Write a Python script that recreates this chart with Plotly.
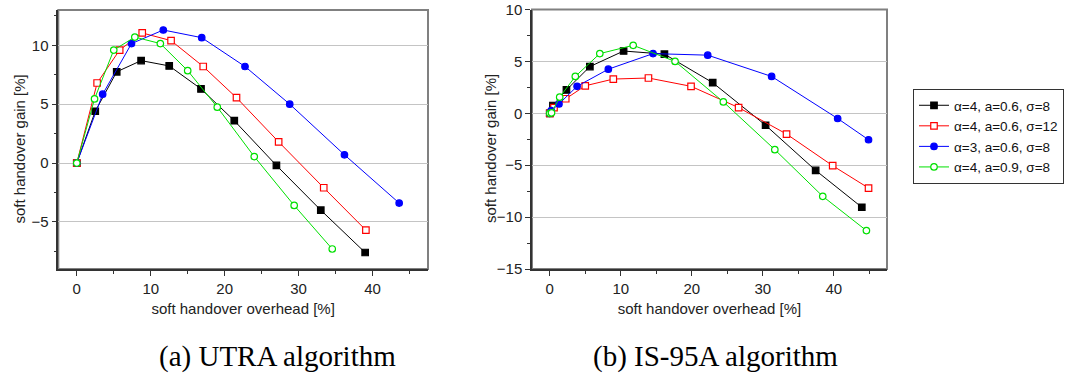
import plotly.graph_objects as go

W, H = 1074, 378

# ---------------- data ----------------
series_names = ["α=4, a=0.6, σ=8", "α=4, a=0.6, σ=12", "α=3, a=0.6, σ=8", "α=4, a=0.9, σ=8"]

# (a) UTRA algorithm
utra_black_x = [0, 2.5, 5.4, 8.7, 12.5, 16.8, 21.3, 27.0, 33.0, 39.0]
utra_black_y = [0, 4.4, 7.75, 8.7, 8.25, 6.3, 3.6, -0.2, -4.0, -7.6]
utra_red_x = [0, 2.75, 5.8, 8.85, 12.75, 17.1, 21.6, 27.3, 33.4, 39.1]
utra_red_y = [0, 6.8, 9.6, 11.05, 10.4, 8.2, 5.55, 1.8, -2.1, -5.7]
utra_blue_x = [0, 3.5, 7.4, 11.7, 16.9, 22.75, 28.8, 36.2, 43.6]
utra_blue_y = [0, 5.85, 10.15, 11.3, 10.65, 8.2, 5.0, 0.7, -3.4]
utra_green_x = [0, 2.4, 5.0, 7.85, 11.3, 15.0, 19.0, 24.0, 29.4, 34.55]
utra_green_y = [0, 5.45, 9.6, 10.7, 10.15, 7.85, 4.75, 0.55, -3.6, -7.3]

# (b) IS-95A algorithm
is95_black_x = [0, 0.45, 2.35, 5.65, 10.4, 16.15, 22.95, 30.4, 37.45, 43.95]
is95_black_y = [0, 0.75, 2.25, 4.5, 6.0, 5.7, 2.95, -1.15, -5.5, -9.05]
is95_red_x = [0, 0.6, 2.25, 5.0, 8.95, 13.9, 19.9, 26.6, 33.35, 39.85, 44.9]
is95_red_y = [0, 0.55, 1.4, 2.65, 3.3, 3.4, 2.6, 0.55, -2.0, -5.05, -7.2]
is95_blue_x = [0, 0.2, 1.3, 3.85, 8.25, 14.55, 22.25, 31.25, 40.55, 44.9]
is95_blue_y = [0, 0.25, 0.9, 2.6, 4.25, 5.75, 5.6, 3.55, -0.5, -2.55]
is95_green_x = [0, 0.25, 1.4, 3.6, 7.05, 11.75, 17.65, 24.45, 31.7, 38.45, 44.6]
is95_green_y = [0, 0.05, 1.55, 3.55, 5.75, 6.55, 5.0, 1.1, -3.5, -8.0, -11.3]

x_title = "soft handover overhead [%]"
y_title = "soft handover gain [%]"
captions = ["(a) UTRA algorithm", "(b) IS-95A algorithm"]

# ---------------- styles ----------------
styles = [
    dict(color="#000000", symbol="square", fill="#000000"),
    dict(color="#ff0000", symbol="square", fill="#ffffff"),
    dict(color="#0000ff", symbol="circle", fill="#0000ff"),
    dict(color="#00e000", symbol="circle", fill="#ffffff"),
]

fig = go.Figure()

panels = [
    ("x", "y", [(utra_black_x, utra_black_y), (utra_red_x, utra_red_y),
                (utra_blue_x, utra_blue_y), (utra_green_x, utra_green_y)], True),
    ("x2", "y2", [(is95_black_x, is95_black_y), (is95_red_x, is95_red_y),
                  (is95_blue_x, is95_blue_y), (is95_green_x, is95_green_y)], False),
]

for xa, ya, data, show in panels:
    for i, (xs, ys) in enumerate(data):
        st = styles[i]
        fig.add_trace(go.Scatter(
            x=xs, y=ys, xaxis=xa, yaxis=ya, mode="lines+markers",
            name=series_names[i], showlegend=show,
            line=dict(color=st["color"], width=1),
            marker=dict(symbol=st["symbol"], size=6.5, color=st["fill"],
                        line=dict(color=st["color"], width=1.2)),
        ))

def px_x(p):
    return p / W

def px_y(p):
    return 1 - p / H

FONT = "Liberation Sans, Arial"
tickfont = dict(family=FONT, size=15, color="#222222")
common_x = dict(range=[-2.5, 47.5], dtick=10, tick0=0, ticks="outside", ticklen=5,
                tickcolor="#333333", showline=True, linecolor="#333333", linewidth=1.5,
                showgrid=False, zeroline=False, tickfont=tickfont, automargin=False,
                ticklabeloverflow="allow",
                minor=dict(dtick=5, tick0=0, ticks="outside", ticklen=3, tickcolor="#333333", showgrid=False),
                title=dict(text=x_title, font=dict(family=FONT, size=15, color="#222222"), standoff=8))
common_y = dict(dtick=5, ticks="outside", ticklen=5, tickcolor="#333333", showline=True,
                linecolor="#333333", linewidth=1.5, showgrid=True, gridcolor="#c4c4c4", gridwidth=1,
                zeroline=False, tickfont=tickfont, automargin=False, ticklabeloverflow="allow",
                minor=dict(dtick=2.5, ticks="outside", ticklen=3, tickcolor="#333333", showgrid=False))

fig.update_layout(
    width=W, height=H, margin=dict(l=0, r=0, t=0, b=0, autoexpand=False),
    paper_bgcolor="white", plot_bgcolor="white",
    font=dict(family=FONT, size=14, color="#222222"),
    xaxis=dict(domain=[px_x(58.3), px_x(428)], anchor="y", **common_x),
    yaxis=dict(domain=[px_y(269), px_y(10)], anchor="x", range=[-9, 13], tick0=0, **common_y),
    xaxis2=dict(domain=[px_x(532), px_x(887)], anchor="y2", **common_x),
    yaxis2=dict(domain=[px_y(269), px_y(9.5)], anchor="x2", range=[-15, 10], tick0=-15, **common_y),
    legend=dict(x=px_x(913), y=px_y(89), xanchor="left", yanchor="top",
                bordercolor="#333333", borderwidth=1, bgcolor="white",
                font=dict(family=FONT, size=13.5, color="#111111"),
                itemwidth=30, tracegroupgap=0),
    showlegend=True,
)

# grey frame (top/right) behind axis lines
for xr, yr in [("x domain", "y domain"), ("x2 domain", "y2 domain")]:
    fig.add_shape(type="rect", xref=xr, yref=yr, x0=0, x1=1, y0=0, y1=1,
                  line=dict(color="#808080", width=2), layer="below")

# y-axis titles
for xp in [18.5, 490]:
    fig.add_annotation(text=y_title, xref="paper", yref="paper", x=px_x(xp), y=px_y(149),
                       textangle=-90, showarrow=False, xanchor="center", yanchor="middle",
                       font=dict(family=FONT, size=15, color="#222222"))

# captions
for xp, cap in zip([277, 715], captions):
    fig.add_annotation(text=cap, xref="paper", yref="paper", x=px_x(xp), y=px_y(356),
                       showarrow=False, xanchor="center", yanchor="middle",
                       font=dict(family="Liberation Serif, Times New Roman", size=29, color="#000000"))

# remove the browser's default 8px body margin so the figure fills the window
fig.write_html("out.html", config={"displayModeBar": False},
               post_script="document.body.style.margin='0';")
